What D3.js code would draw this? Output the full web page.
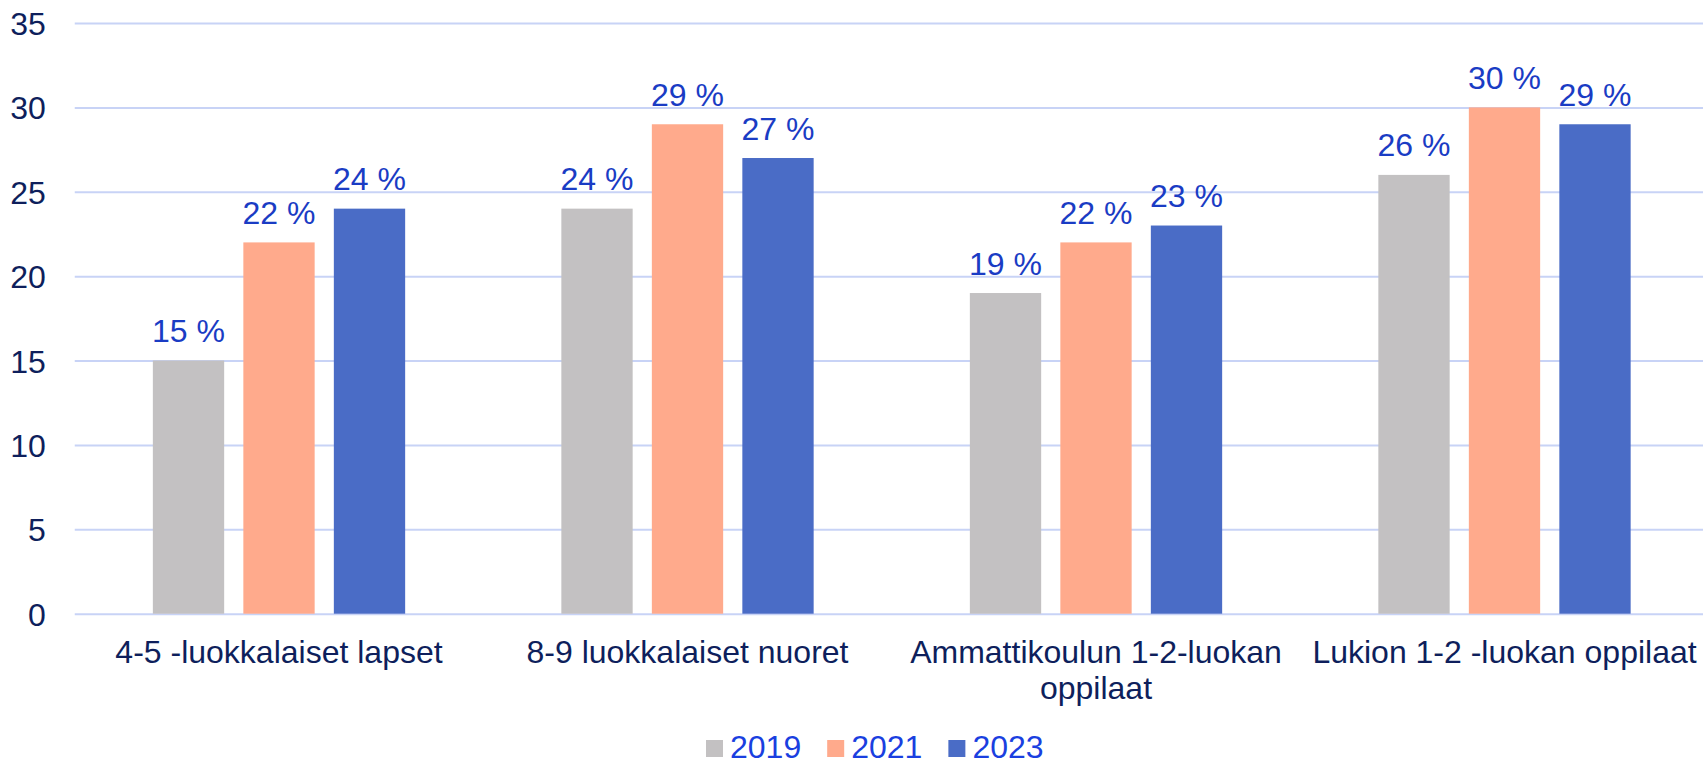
<!DOCTYPE html>
<html>
<head>
<meta charset="utf-8">
<script src="https://cdn.jsdelivr.net/npm/d3@7"></script>
<style>
body { margin: 0; background: #fff; }
text { font-family: "Liberation Sans", Arial, sans-serif; }
</style>
</head>
<body>
<div id="chart"></div>
<script>
// ----------------------------------------------------------
// DATA -----------------------------------------------------
// ----------------------------------------------------------
var categories = ["4-5 -luokkalaiset lapset", "8-9 luokkalaiset nuoret", "Ammattikoulun 1-2-luokan oppilaat", "Lukion 1-2 -luokan oppilaat"];
var years = ["2019", "2021", "2023"];
var values_2019 = [15, 24, 19, 26];
var values_2021 = [22, 29, 22, 30];
var values_2023 = [24, 27, 23, 29];
var y_ticks = [0, 5, 10, 15, 20, 25, 30, 35];

// ----------------------------------------------------------
// LAYOUT ---------------------------------------------------
// ----------------------------------------------------------
var width = 1703, height = 765;
var plot_left = 74.75, plot_right = 1708.75;
var plot_top = 23, plot_bottom = 613.7;

var color_bars = ["#c3c1c2", "#ffaa8c", "#4a6cc6"];
var color_axis_text = "#0e1f5c";
var color_label = "#1a3cc4";
var color_legend = "#1a3fe0";
var color_grid = "#c8d3f6";

var series = [values_2019, values_2021, values_2023];
var rows = categories.map(function(c, i) {
  return { cat: c, vals: years.map(function(y, j) { return { year: y, value: series[j][i] }; }) };
});

var svg = d3.select("#chart").append("svg")
  .attr("width", width)
  .attr("height", height)
  .style("background-color", "#fff");

// scales
var x0 = d3.scaleBand().domain(categories).range([plot_left, plot_right]).padding(0);
var x1 = d3.scaleBand().domain(years).range([0, x0.bandwidth()])
  .paddingInner(0.212).paddingOuter(0.863);
var y = d3.scaleLinear().domain([0, 35]).range([plot_bottom, plot_top]);
var color = d3.scaleOrdinal().domain(years).range(color_bars);

// grid + y axis
var yAxis = svg.append("g")
  .attr("class", "y_axis")
  .attr("transform", "translate(" + plot_left + ",0)")
  .call(d3.axisLeft(y).tickValues(y_ticks).tickSize(-(plot_right - plot_left)).tickPadding(29));
yAxis.select(".domain").remove();
yAxis.selectAll(".tick line").attr("stroke", color_grid).attr("stroke-width", 2);
yAxis.selectAll(".tick text")
  .attr("fill", color_axis_text)
  .style("font-size", "32px")
  .attr("dy", "0.36em");

// bars
var groups = svg.append("g").selectAll("g")
  .data(rows)
  .enter().append("g")
  .attr("transform", function(d) { return "translate(" + x0(d.cat) + ",0)"; });

groups.selectAll("rect")
  .data(function(d) { return d.vals; })
  .enter().append("rect")
  .attr("x", function(d) { return x1(d.year); })
  .attr("y", function(d) { return y(d.value); })
  .attr("width", x1.bandwidth())
  .attr("height", function(d) { return y(0) - y(d.value); })
  .style("fill", function(d) { return color(d.year); });

// data labels
groups.selectAll("text")
  .data(function(d) { return d.vals; })
  .enter().append("text")
  .attr("x", function(d) { return x1(d.year) + x1.bandwidth() / 2; })
  .attr("y", function(d) { return y(d.value) - 18.5; })
  .attr("text-anchor", "middle")
  .style("font-size", "32px")
  .style("fill", color_label)
  .text(function(d) { return d.value + " %"; });

// x axis labels (wrapped to band width)
var xAxis = svg.append("g")
  .attr("class", "x_axis")
  .attr("transform", "translate(0," + plot_bottom + ")")
  .call(d3.axisBottom(x0).tickSize(0).tickPadding(0));
xAxis.select(".domain").remove();
xAxis.selectAll(".tick text")
  .attr("fill", color_axis_text)
  .style("font-size", "32px")
  .attr("dy", null)
  .attr("y", 49)
  .call(wrap, x0.bandwidth() - 10);

function wrap(sel, maxw) {
  sel.each(function() {
    var t = d3.select(this);
    var words = t.text().split(/\s+/);
    var yy = t.attr("y");
    t.text(null);
    var line = [], lineNo = 0;
    var tspan = t.append("tspan").attr("x", 0).attr("y", yy);
    words.forEach(function(w) {
      line.push(w);
      tspan.text(line.join(" "));
      if (tspan.node().getComputedTextLength() > maxw && line.length > 1) {
        line.pop();
        tspan.text(line.join(" "));
        line = [w];
        lineNo++;
        tspan = t.append("tspan").attr("x", 0).attr("y", +yy + lineNo * 36).text(w);
      }
    });
  });
}

// legend
var legend = svg.append("g").attr("class", "legend");
var lx = 706;
years.forEach(function(yr, i) {
  var item = legend.append("g");
  item.append("rect")
    .attr("x", lx).attr("y", 740)
    .attr("width", 17).attr("height", 17)
    .style("fill", color(yr));
  var t = item.append("text")
    .attr("x", lx + 24).attr("y", 758)
    .style("font-size", "32px")
    .style("fill", color_legend)
    .text(yr);
  lx += 24 + t.node().getComputedTextLength() + 26;
});
</script>
</body>
</html>
